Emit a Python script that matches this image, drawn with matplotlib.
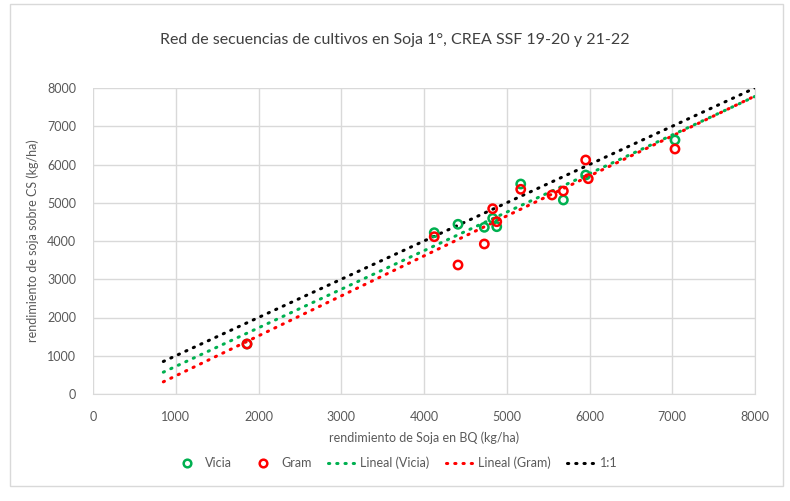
import numpy as np
import matplotlib.pyplot as plt
from matplotlib.lines import Line2D
from matplotlib.patches import Rectangle

plt.rcParams['font.family'] = ['Lato', 'DejaVu Sans']

# data
vicia_x = [1861, 4124, 4411, 4729, 4830, 4879, 5169, 5684, 5954, 7033]
vicia_y = [1307, 4217, 4437, 4358, 4593, 4374, 5490, 5072, 5725, 6640]
gram_x = [1861, 4124, 4411, 4729, 4830, 4879, 5169, 5547, 5684, 5954, 5985, 7033]
gram_y = [1307, 4112, 3373, 3922, 4844, 4505, 5352, 5203, 5307, 6118, 5629, 6405]
line_x = [850, 8000]
ticks = [0, 1000, 2000, 3000, 4000, 5000, 6000, 7000, 8000]

green = '#00B050'
red = '#FF0000'
txt = '#595959'
grid = '#D9D9D9'

fig = plt.figure(figsize=(7.9, 5.01), dpi=100)
fig.patches.append(Rectangle((10 / 790, 1 - 486 / 501), 773 / 790, 482 / 501,
                             transform=fig.transFigure, fill=False,
                             edgecolor=grid, lw=1))
ax = fig.add_axes([93 / 790, 1 - 394 / 501, 662 / 790, 306 / 501])

# linear trends
lx = np.array(line_x, dtype=float)
pv = np.polyfit(vicia_x, vicia_y, 1)
pg = np.polyfit(gram_x, gram_y, 1)
dots = dict(lw=2.2, linestyle=(0, (0.4, 2.3)), dash_capstyle='round')
ax.plot(lx, lx, color='black', **dots)
ax.plot(lx, np.polyval(pv, lx), color=green, **dots)
ax.plot(lx, np.polyval(pg, lx), color=red, **dots)

# points
mk = dict(marker='o', s=36, facecolors='none', linewidths=1.8, zorder=5)
ax.scatter(vicia_x, vicia_y, edgecolors=green, **mk)
ax.scatter(gram_x, gram_y, edgecolors=red, **mk)

ax.set_xlim(0, 8000)
ax.set_ylim(0, 8000)
ax.set_xticks(ticks)
ax.set_yticks(ticks)
ax.grid(True, color=grid, lw=1)
ax.set_axisbelow(True)
for side in ['top', 'left']:
    ax.spines[side].set_visible(False)
for side in ['bottom', 'right']:
    ax.spines[side].set_color(grid)
ax.tick_params(length=0, labelsize=9, colors=txt, pad=12)
ax.set_xlabel('rendimiento de Soja en BQ (kg/ha)', fontsize=9, color=txt,
              labelpad=6)
ax.set_ylabel('rendimiento de soja sobre CS (kg/ha)', fontsize=9, color=txt,
              labelpad=6)

fig.text(0.5, 1 - 40 / 501,
         'Red de secuencias de cultivos en Soja 1°, CREA SSF 19-20 y 21-22',
         ha='center', va='center', fontsize=11.5, color='#404040')

handles = [
    Line2D([], [], marker='o', ls='none', mfc='none', mec=green, mew=1.8, ms=5.5),
    Line2D([], [], marker='o', ls='none', mfc='none', mec=red, mew=1.8, ms=5.5),
    Line2D([], [], color=green, **dots),
    Line2D([], [], color=red, **dots),
    Line2D([], [], color='black', **dots),
]
labels = ['Vicia', 'Gram', 'Lineal (Vicia)', 'Lineal (Gram)', '1:1']
fig.legend(handles, labels, loc='center', ncol=5,
           bbox_to_anchor=(0.5, 1 - 463 / 501), frameon=False, fontsize=9,
           labelcolor=txt, handlelength=2.3, columnspacing=1.3,
           handletextpad=0.3)

plt.savefig('out.png', dpi=100)
